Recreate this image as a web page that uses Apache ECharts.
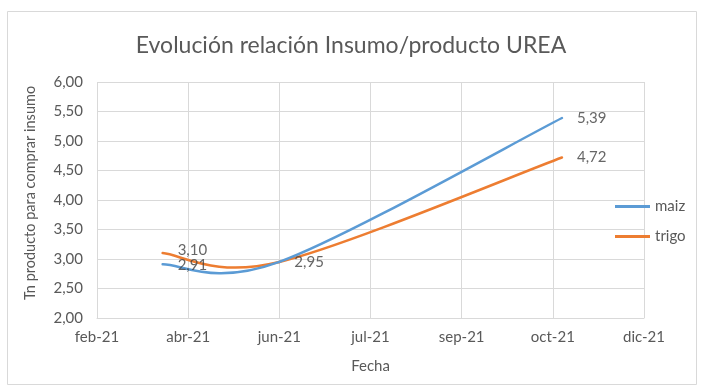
<!DOCTYPE html>
<html><head><meta charset="utf-8">
<script src="https://cdn.jsdelivr.net/npm/echarts@6/dist/echarts.min.js"></script>
<style>html,body{margin:0;padding:0;background:#fff}#c{width:702px;height:391px}</style>
</head><body><div id="c"></div>
<script>
const axisStartDate = '2021-02-23';
const tickStepDays = 50;
const tickLabels = ['feb-21','abr-21','jun-21','jul-21','sep-21','oct-21','dic-21'];
const dates = ['2021-03-31','2021-06-03','2021-11-05'];
const maiz = [2.91, 2.95, 5.39];
const trigo = [3.10, 2.95, 4.72];
const trigoLabelShown = [true, false, true];

const FONT = 'Lato';
const BLUE = '#5B9BD5', ORANGE = '#ED7D31';
const dayMs = 86400000;
const t0 = Date.parse(axisStartDate + 'T00:00:00Z');
const xs = dates.map(d => Math.round((Date.parse(d + 'T00:00:00Z') - t0) / dayMs));
const fmt = v => Number(v).toFixed(2).replace('.', ',');

// Excel-style smoothed line segment (Catmull-Rom Bezier, tension 1/6), positions from the axes via api.coord
function smoothRender(vals, color) {
  return function (params, api) {
    const i = params.dataIndex;
    const n = vals.length;
    if (i >= n - 1) return null;
    const P = vals.map((v, k) => api.coord([xs[k], v]));
    const p0 = P[Math.max(i - 1, 0)], p1 = P[i], p2 = P[i + 1], p3 = P[Math.min(i + 2, n - 1)];
    const c1 = [p1[0] + (p2[0] - p0[0]) / 6, p1[1] + (p2[1] - p0[1]) / 6];
    const c2 = [p2[0] - (p3[0] - p1[0]) / 6, p2[1] - (p3[1] - p1[1]) / 6];
    return {
      type: 'bezierCurve',
      shape: { x1: p1[0], y1: p1[1], cpx1: c1[0], cpy1: c1[1], cpx2: c2[0], cpy2: c2[1], x2: p2[0], y2: p2[1] },
      style: { stroke: color, lineWidth: 2.5, fill: null, lineCap: 'round' },
      silent: true
    };
  };
}

function labelData(vals, shown, firstOffset) {
  return vals.map((v, i) => {
    const item = { value: [xs[i], v] };
    if (shown && !shown[i]) item.label = { show: false };
    else if (i === 0) item.label = { offset: firstOffset };
    return item;
  });
}

const labelStyle = { show: true, position: 'right', distance: 15, color: '#404040', fontFamily: FONT, fontSize: 15,
  formatter: p => fmt(p.value[1]) };

const chart = echarts.init(document.getElementById('c'), null, { renderer: 'canvas' });
chart.setOption({
  animation: false,
  backgroundColor: '#fff',
  textStyle: { fontFamily: FONT },
  graphic: [{
    type: 'rect', shape: { x: 7.5, y: 11.5, width: 689, height: 373 },
    style: { fill: 'none', stroke: '#d9d9d9', lineWidth: 1 }, silent: true, z: -1
  }],
  title: {
    text: 'Evolución relación Insumo/producto UREA',
    left: 'center', top: 29,
    textStyle: { fontFamily: FONT, fontSize: 23, fontWeight: 'normal', color: '#595959' }
  },
  legend: {
    orient: 'vertical', left: 610, top: 194, itemWidth: 35, itemHeight: 3, itemGap: 15,
    icon: 'rect',
    textStyle: { fontFamily: FONT, fontSize: 15, color: '#595959' },
    data: [{ name: 'maiz', itemStyle: { color: BLUE } }, { name: 'trigo', itemStyle: { color: ORANGE } }]
  },
  grid: { left: 97, right: 58, top: 82, bottom: 73, containLabel: false },
  xAxis: {
    type: 'value', min: 0, max: tickStepDays * (tickLabels.length - 1), interval: tickStepDays,
    name: 'Fecha', nameLocation: 'middle', nameGap: 41,
    nameTextStyle: { fontFamily: FONT, fontSize: 15, color: '#595959' },
    axisLine: { show: true, lineStyle: { color: '#d9d9d9' } },
    axisTick: { show: false },
    axisLabel: { color: '#595959', fontFamily: FONT, fontSize: 15, margin: 12,
      formatter: v => tickLabels[Math.round(v / tickStepDays)] },
    splitLine: { show: true, lineStyle: { color: '#d9d9d9' } }
  },
  yAxis: {
    type: 'value', min: 2, max: 6, interval: 0.5,
    name: 'Tn producto para comprar insumo', nameLocation: 'middle', nameGap: 59, nameRotate: 90,
    nameTextStyle: { fontFamily: FONT, fontSize: 14.5, color: '#595959', padding: [0, 0, 0, 14] },
    axisLine: { show: false }, axisTick: { show: false },
    axisLabel: { color: '#595959', fontFamily: FONT, fontSize: 15, margin: 14, formatter: v => fmt(v) },
    splitLine: { show: true, lineStyle: { color: '#d9d9d9' } }
  },
  series: [
    {
      name: 'maiz', type: 'custom', renderItem: smoothRender(maiz, BLUE),
      data: maiz.map((v, i) => [xs[i], v]), encode: { x: 0, y: 1 },
      itemStyle: { color: BLUE }, z: 3
    },
    {
      name: 'trigo', type: 'custom', renderItem: smoothRender(trigo, ORANGE),
      data: trigo.map((v, i) => [xs[i], v]), encode: { x: 0, y: 1 },
      itemStyle: { color: ORANGE }, z: 2
    },
    {
      name: 'maiz etiquetas', type: 'scatter', symbolSize: 0, silent: true,
      data: labelData(maiz, null, [0, 1]), label: labelStyle, z: 4
    },
    {
      name: 'trigo etiquetas', type: 'scatter', symbolSize: 0, silent: true,
      data: labelData(trigo, trigoLabelShown, [0, -3]), label: labelStyle, z: 4
    }
  ]
});
</script></body></html>
